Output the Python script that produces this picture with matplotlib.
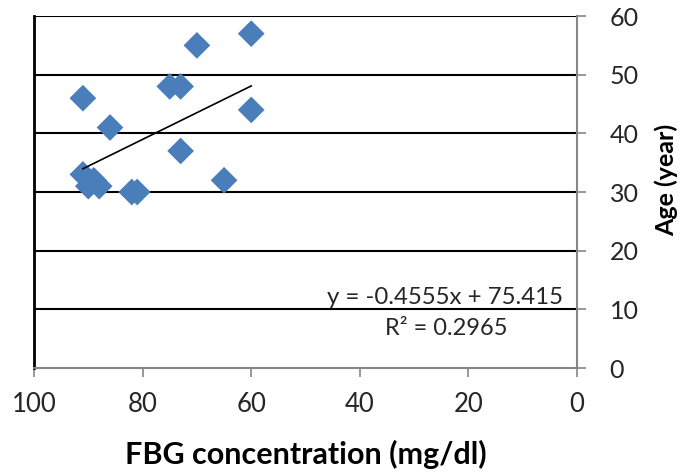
import matplotlib.pyplot as plt
import numpy as np

plt.rcParams['font.family'] = ['Lato', 'DejaVu Sans']

# FBG concentration (mg/dl) vs age (year)
fbg = [91, 86, 75, 73, 70, 60, 60, 73, 65, 82, 81, 91, 90, 88, 89]
age = [46, 41, 48, 48, 55, 57, 44, 37, 32, 30, 30, 33, 31, 31, 32]

slope = -0.4555
intercept = 75.415
eq_text = "y = -0.4555x + 75.415"
r2_text = "R² = 0.2965"

x_ticks = [100, 80, 60, 40, 20, 0]
y_ticks = [0, 10, 20, 30, 40, 50, 60]

fig = plt.figure(figsize=(6.83, 4.72), dpi=100)
ax = fig.add_axes([0.0498, 0.2203, 0.795, 0.7457])

for yv in y_ticks[1:]:
    ax.axhline(yv, color='black', lw=1.5, zorder=1)

ax.scatter(fbg, age, marker='D', s=185, color='#4A7EBB', edgecolors='none', zorder=3)

xs = np.array([max(fbg), min(fbg)])
ax.plot(xs, slope * xs + intercept, color='black', lw=1.2, zorder=4)

ax.set_xlim(100, 0)
ax.set_ylim(0, 60)
ax.set_xticks(x_ticks)
ax.set_yticks(y_ticks)

ax.yaxis.tick_right()
ax.yaxis.set_label_position('right')
ax.tick_params(axis='x', direction='out', length=6.5, width=1.2, color='#868686',
               labelsize=18.5, labelcolor='#262626', pad=11)
ax.tick_params(axis='y', direction='out', length=6.5, width=1.2, color='#868686',
               labelsize=18, labelcolor='#262626', pad=17)

ax.spines['top'].set_visible(False)
ax.spines['left'].set_color('black')
ax.spines['left'].set_linewidth(2)
ax.spines['right'].set_color('#868686')
ax.spines['right'].set_linewidth(1.5)
ax.spines['bottom'].set_color('#868686')
ax.spines['bottom'].set_linewidth(1.5)

ax.set_xlabel("FBG concentration (mg/dl)", fontsize=22, fontweight='bold', va='center')
ax.xaxis.set_label_coords(0.5, -0.245)
ax.set_ylabel("Age (year)", fontsize=18, fontweight='bold', rotation=90, va='center')
ax.yaxis.set_label_coords(1.165, 0.534)

ax.text(2.5, 10.2, eq_text, ha='right', va='bottom', fontsize=17.3, color='#262626')
ax.text(24, 6.8, r2_text, ha='center', va='center', fontsize=17, color='#262626')

fig.savefig("out.png", dpi=100)
